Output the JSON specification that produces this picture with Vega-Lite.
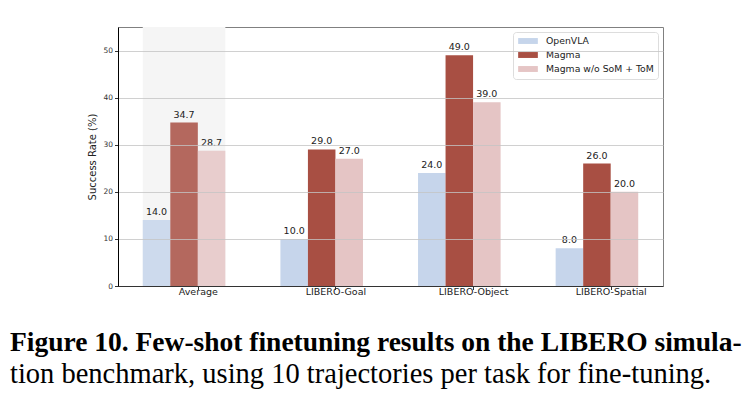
{
  "$schema": "https://vega.github.io/schema/vega-lite/v6.json",
  "width": 545,
  "height": 259,
  "autosize": {"type": "none"},
  "padding": {"left": 118, "top": 27, "right": 93, "bottom": 125},
  "background": "white",
  "config": {
    "font": "DejaVu Sans",
    "view": {"stroke": "#808080", "strokeWidth": 1}
  },
  "title": {
    "text": "Figure 10. Few-shot finetuning results on the LIBERO simula-",
    "subtitle": "tion benchmark, using 10 trajectories per task for fine-tuning.",
    "orient": "bottom",
    "anchor": "start",
    "frame": "group",
    "dx": -108,
    "offset": 33,
    "font": "Liberation Serif",
    "fontSize": 27.5,
    "fontWeight": "bold",
    "color": "#000000",
    "subtitleFont": "Liberation Serif",
    "subtitleFontSize": 28.5,
    "subtitleColor": "#000000",
    "subtitlePadding": 3
  },
  "datasets": {
    "bars": [
      {"category": "Average", "method": "OpenVLA", "value": 14.0},
      {"category": "Average", "method": "Magma", "value": 34.7},
      {"category": "Average", "method": "Magma w/o SoM + ToM", "value": 28.7},
      {"category": "LIBERO-Goal", "method": "OpenVLA", "value": 10.0},
      {"category": "LIBERO-Goal", "method": "Magma", "value": 29.0},
      {"category": "LIBERO-Goal", "method": "Magma w/o SoM + ToM", "value": 27.0},
      {"category": "LIBERO-Object", "method": "OpenVLA", "value": 24.0},
      {"category": "LIBERO-Object", "method": "Magma", "value": 49.0},
      {"category": "LIBERO-Object", "method": "Magma w/o SoM + ToM", "value": 39.0},
      {"category": "LIBERO-Spatial", "method": "OpenVLA", "value": 8.0},
      {"category": "LIBERO-Spatial", "method": "Magma", "value": 26.0},
      {"category": "LIBERO-Spatial", "method": "Magma w/o SoM + ToM", "value": 20.0}
    ],
    "highlight": [{"category": "Average"}]
  },
  "layer": [
    {
      "data": {"name": "highlight"},
      "mark": {"type": "rect", "color": "#f5f5f5"},
      "encoding": {
        "x": {"field": "category", "type": "nominal"}
      }
    },
    {
      "data": {"name": "bars"},
      "mark": {"type": "bar"},
      "encoding": {
        "x": {
          "field": "category",
          "type": "nominal",
          "sort": ["Average", "LIBERO-Goal", "LIBERO-Object", "LIBERO-Spatial"],
          "scale": {"paddingInner": 0.4, "paddingOuter": 0.18},
          "axis": {
            "title": null,
            "labelAngle": 0,
            "labelAlign": "center",
            "labelFontSize": 9.5,
            "labelColor": "#222222",
            "labelPadding": 2,
            "tickSize": 3.5,
            "tickColor": "#333333",
            "domainColor": "#333333",
            "tickOffset": 13.75,
            "grid": false
          }
        },
        "xOffset": {
          "field": "method",
          "type": "nominal",
          "sort": ["OpenVLA", "Magma", "Magma w/o SoM + ToM"],
          "scale": {"paddingInner": 0, "paddingOuter": 0}
        },
        "y": {
          "field": "value",
          "type": "quantitative",
          "scale": {"domain": [0, 55], "nice": false},
          "axis": {
            "title": "Success Rate (%)",
            "titleFontSize": 10,
            "titleFontWeight": "normal",
            "titleColor": "#222222",
            "titlePadding": 5,
            "values": [0, 10, 20, 30, 40, 50],
            "labelFontSize": 7.5,
            "labelColor": "#333333",
            "labelPadding": 2,
            "tickSize": 3.5,
            "tickColor": "#333333",
            "domainColor": "#000000",
            "gridColor": "#c4c4c4",
            "gridWidth": 0.8,
            "zindex": 1
          }
        },
        "color": {
          "field": "method",
          "type": "nominal",
          "sort": ["OpenVLA", "Magma", "Magma w/o SoM + ToM"],
          "scale": {
            "domain": ["OpenVLA", "Magma", "Magma w/o SoM + ToM"],
            "range": ["#c6d5eb", "#a84f43", "#e5c5c5"]
          },
          "legend": {
            "title": null,
            "orient": "top-right",
            "offset": 5,
            "padding": 4,
            "rowPadding": 3,
            "labelFontSize": 9.3,
            "labelColor": "#222222",
            "labelOffset": 13,
            "symbolType": "M-2,-0.6H2V0.6H-2Z",
            "symbolSize": 97,
            "symbolOffset": 6,
            "symbolStrokeWidth": 0,
            "fillColor": "#ffffff",
            "strokeColor": "#dddddd",
            "cornerRadius": 3
          }
        },
        "opacity": {
          "condition": {"test": "datum.category === 'Average'", "value": 0.85},
          "value": 1
        }
      }
    },
    {
      "data": {"name": "bars"},
      "mark": {"type": "text", "baseline": "alphabetic", "dy": -5, "fontSize": 9.5, "color": "#222222"},
      "encoding": {
        "x": {"field": "category", "type": "nominal", "sort": ["Average", "LIBERO-Goal", "LIBERO-Object", "LIBERO-Spatial"]},
        "xOffset": {"field": "method", "type": "nominal", "sort": ["OpenVLA", "Magma", "Magma w/o SoM + ToM"]},
        "y": {"field": "value", "type": "quantitative"},
        "text": {"field": "value", "type": "quantitative", "format": ".1f"}
      }
    }
  ]
}
